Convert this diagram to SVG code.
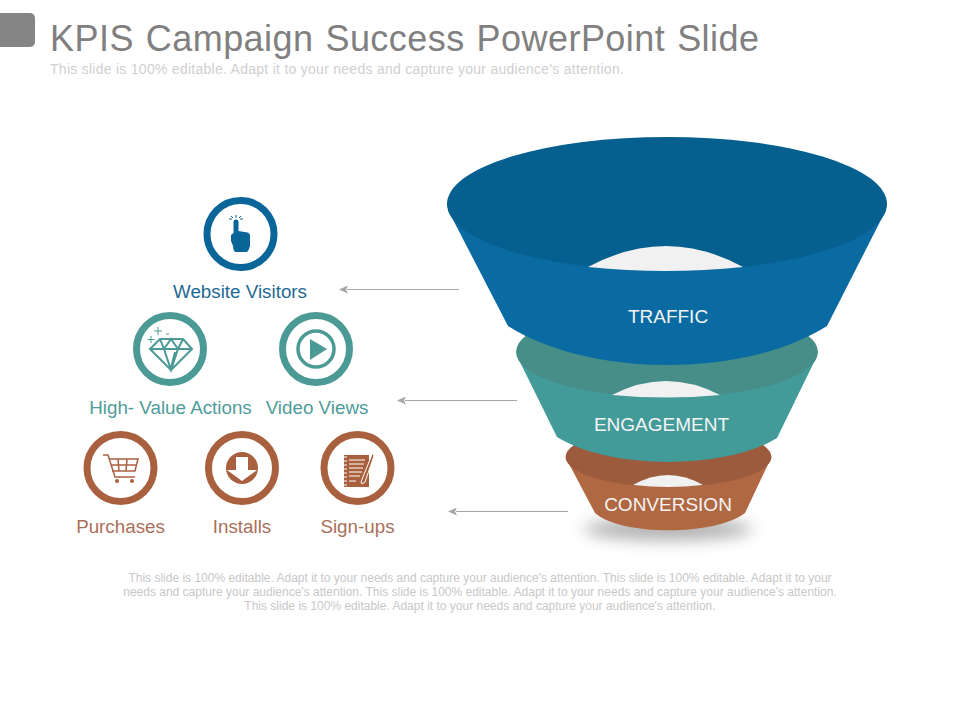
<svg xmlns="http://www.w3.org/2000/svg" width="960" height="720" viewBox="0 0 960 720">
<style>
text{font-family:"Liberation Sans",Arial,sans-serif}
.t{font-size:36px;fill:#808080;letter-spacing:.450px;word-spacing:1.500px}
.s{font-size:14px;fill:#cfcfcf;letter-spacing:.270px}
.b{font-size:12px;fill:#c8c8c8;text-anchor:middle}
.f{font-size:19px;fill:#f4f4f4;text-anchor:middle}
.l{font-size:18.800px;text-anchor:middle}
.blue{fill:#1f6a93}.teal{fill:#4f9c9a}.brown{fill:#a9705a}
.ring{fill:none;stroke-width:7}
.rb{stroke:#0a6599}.rt{stroke:#4b9a96}.rr{stroke:#a9603f}
.c{stroke:#a6a6a6;stroke-width:1;fill:none;marker-end:url(#a)}
</style>
<defs>
<marker id="a" markerUnits="userSpaceOnUse" markerWidth="9" markerHeight="8" refX="1" refY="4" orient="auto-start-reverse"><path d="M9 0L0 4L9 8L7 4Z" fill="#a6a6a6" transform="rotate(180 4.5 4)"/></marker>
<filter id="bl" x="-30%" y="-120%" width="160%" height="340%"><feGaussianBlur stdDeviation="8"/></filter>
</defs>
<rect width="960" height="720" fill="#fff"/>
<rect id="tab" x="-8" y="13" width="43" height="34" rx="5" fill="#858585"/>
<text class="t" x="50" y="51">KPIS Campaign Success PowerPoint Slide</text>
<text class="s" x="50" y="74">This slide is 100% editable. Adapt it to your needs and capture your audience's attention.</text>

<g id="connectors">
<path class="c" d="M459 289.500H347"/>
<path class="c" d="M517 400.500H405"/>
<path class="c" d="M568 511.500H456"/>
</g>

<g id="conversion">
<ellipse cx="668" cy="529" rx="84" ry="11" fill="#aeaeae" filter="url(#bl)"/>
<path d="M567 460L595 513C620 536 716 536 745 513L770 460Z" fill="#b06843"/>
<ellipse cx="668.500" cy="457" rx="103" ry="30" fill="#9d5b3d"/>
<path d="M633 485Q668 465 703 485Q668 489 633 485Z" fill="#f1f1f1"/>
<text class="f" x="668" y="511">CONVERSION</text>
</g>
<g id="engagement">
<path d="M517 356L557 437C610 470 725 470 777 438L817 356Z" fill="#429b98"/>
<ellipse cx="667" cy="352" rx="151" ry="45.500" fill="#478e89"/>
<path d="M612 395Q666 367 720 395Q666 400 612 395Z" fill="#f1f1f1"/>
<text class="f" x="661.500" y="431">ENGAGEMENT</text>
</g>
<g id="traffic">
<path d="M448 210L508 326C590 378 745 378 827 326L886 210Z" fill="#0a6ba3"/>
<ellipse cx="667" cy="204" rx="220" ry="67" fill="#05608f"/>
<path d="M588 267Q666 225 743 267Q666 275 588 267Z" fill="#f1f1f1"/>
<text class="f" x="668" y="323">TRAFFIC</text>
</g>

<g id="website-visitors">
<circle class="ring rb" cx="240.500" cy="234" r="33.500"/>
<path d="M233.500 222a2.500 2.500 0 0 1 5 0V231l9 1.500Q250 233 250 236V246Q249 250 247 252H235Q233 250 233 246L231 241V235L233.500 233Z" fill="#0a6599"/>
<path d="M236 215V218M231 216l2 2M241 216l-2 2M229 219h3M240 219h3" stroke="#0a6599" stroke-width="1" fill="none"/>
<text class="l blue" x="240" y="298">Website Visitors</text>
</g>

<g id="high-value-actions">
<circle class="ring rt" cx="170" cy="349" r="33.500"/>
<path d="M150 349L160 339H183L192 349L171 370ZM150 349H192M160 339L164 349L171 370L178 349L183 339M164 349L171 339L178 349M175 352L171 368" fill="none" stroke="#4b9a96" stroke-width="2"/>
<path d="M158 327v8M154 331h8M151 336v7M147.500 339.500h7M166 334h3" stroke="#4b9a96" stroke-width="1" fill="none"/>
<text class="l teal" x="170.500" y="414">High- Value Actions</text>
</g>

<g id="video-views">
<circle class="ring rt" cx="316" cy="349" r="33.500"/>
<circle cx="316" cy="349" r="18" fill="none" stroke="#4b9a96" stroke-width="3.500"/>
<path d="M310 339L327 349L310 360Z" fill="#4b9a96"/>
<text class="l teal" x="317" y="414">Video Views</text>
</g>

<g id="purchases">
<circle class="ring rr" cx="120.500" cy="468" r="33.500"/>
<path d="M103 455h5l7 22h20M109 459h29l-3 12h-23M118 459l1 12M127 459l-1 12M111 465h26" fill="none" stroke="#a9603f" stroke-width="1.500"/>
<circle cx="117" cy="481" r="2" fill="#a9603f"/><circle cx="132" cy="481" r="2" fill="#a9603f"/>
<text class="l brown" x="120.500" y="533">Purchases</text>
</g>

<g id="installs">
<circle class="ring rr" cx="242" cy="468" r="33.500"/>
<circle cx="242" cy="468" r="16" fill="#a9603f"/>
<path d="M236 457h12v13h9l-15 11l-15-11h9Z" fill="#fff"/>
<text class="l brown" x="242" y="533">Installs</text>
</g>

<g id="sign-ups">
<circle class="ring rr" cx="357.500" cy="468" r="33.500"/>
<rect x="344" y="455" width="25" height="32" fill="#a9603f"/>
<path d="M342 457h5M342 461h5M342 465h5M342 469h5M342 473h5M342 477h5M342 481h5M342 485h5M349 460h16M349 464h15M349 468h14M349 472h13M349 476h11M349 481h7" stroke="#fff" stroke-width="1" fill="none"/>
<path d="M373 452L361 482L362 484L365 482L374 456Z" fill="#a9603f" stroke="#fff" stroke-width="1"/>
<text class="l brown" x="357.500" y="533">Sign-ups</text>
</g>

<text class="b" x="480" y="582">This slide is 100% editable. Adapt it to your needs and capture your audience's attention. This slide is 100% editable. Adapt it to your</text>
<text class="b" x="480" y="596">needs and capture your audience's attention. This slide is 100% editable. Adapt it to your needs and capture your audience's attention.</text>
<text class="b" x="480" y="610">This slide is 100% editable. Adapt it to your needs and capture your audience's attention.</text>
</svg>
